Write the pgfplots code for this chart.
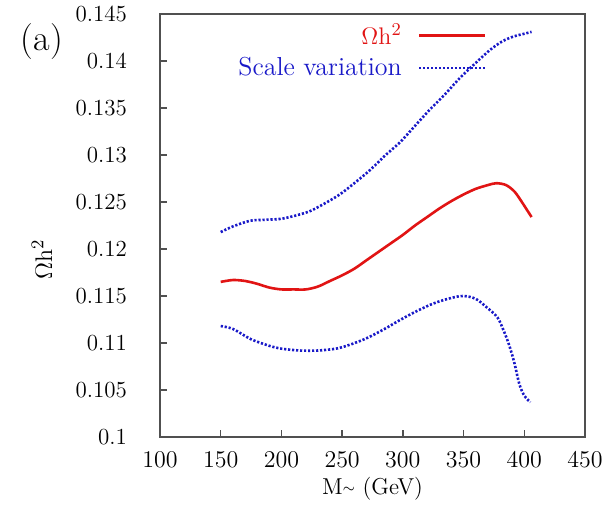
\documentclass[border=0pt]{standalone}
\usepackage{pgfplots}
\pgfplotsset{compat=1.18}
\definecolor{cred}{RGB}{225,20,20}
\definecolor{cblue}{RGB}{25,25,200}
\definecolor{axgray}{RGB}{80,80,80}
\begin{document}
\begin{tikzpicture}
\useasboundingbox (-80pt,-35.5pt) rectangle (226.5pt,218.5pt);
\begin{axis}[
  scale only axis,
  width=212.5pt, height=211.5pt,
  xmin=100, xmax=450, ymin=0.1, ymax=0.145,
  xtick={100,150,...,450},
  ytick={0.1,0.105,...,0.146},
  yticklabels={0.1,0.105,0.11,0.115,0.12,0.125,0.13,0.135,0.14,0.145},
  tick pos=left,
  tick align=inside,
  major tick length=3.5pt,
  axis line style={axgray, line width=0.9pt},
  tick style={axgray, line width=0.7pt},
  ticklabel style={font=\fontsize{11.5}{13}\selectfont},
  xticklabel style={yshift=-4pt},
  yticklabel style={xshift=-13pt},
  scaled y ticks=false,
  xlabel={M\raisebox{0.25ex}{\scriptsize$\sim$} (GeV)},
  xlabel style={font=\fontsize{11.5}{13}\selectfont, at={(axis description cs:0.5,0)}, anchor=center, yshift=-26pt},
  ylabel={$\Omega\mathrm{h}^2$},
  ylabel style={font=\fontsize{13}{15}\selectfont, at={(axis description cs:-0.278,0.42)}, anchor=center},
  legend style={at={(0.783,0.996)}, anchor=north east, draw=none, fill=none,
    font=\fontsize{13}{15}\selectfont, row sep=1pt, column sep=6pt},
  legend cell align=right,
  legend plot pos=right,
  legend image code/.code={\draw[#1] (0pt,0pt) -- (33pt,0pt);},
]
\addplot[cred, line width=1.3pt, smooth] coordinates {
(150,0.1165)(160,0.1167)(170,0.1166)(180,0.1163)(190,0.1159)(200,0.1157)
(210,0.1157)(220,0.1157)(230,0.1160)(240,0.1166)(250,0.1172)(260,0.1179)
(270,0.1188)(280,0.1197)(290,0.1206)(300,0.1215)(310,0.1225)(320,0.1234)
(330,0.1243)(340,0.1251)(350,0.1258)(360,0.1264)(370,0.1268)(377,0.1270)
(385,0.1268)(392,0.1261)(398,0.1250)(402,0.1242)(406,0.1234)};
\addlegendentry{\textcolor{cred}{$\Omega\mathrm{h}^2$}}
\addplot[cblue, line width=1.3pt, dash pattern=on 1.1pt off 0.9pt, smooth] coordinates {
(150,0.1218)(160,0.1224)(174,0.1230)(185,0.1231)(199,0.1232)(210,0.1235)
(223,0.1240)(235,0.1248)(248,0.1258)(260,0.1270)(273,0.1284)(285,0.1299)
(298,0.1314)(310,0.1331)(322,0.1348)(335,0.1365)(347,0.1382)(360,0.1398)
(372,0.1412)(382,0.1421)(391,0.1426)(400,0.1429)(406,0.1431)};
\addlegendentry{\textcolor{cblue}{Scale variation}}
\addplot[cblue, line width=1.3pt, dash pattern=on 1.1pt off 0.9pt, smooth, forget plot] coordinates {
(150,0.1118)(160,0.1115)(175,0.1104)(190,0.1097)(200,0.1094)(215,0.1092)
(230,0.1092)(245,0.1094)(256,0.1098)(270,0.1105)(285,0.1115)(297,0.1124)
(310,0.1133)(325,0.1142)(340,0.1148)(350,0.1150)(360,0.1147)(369,0.1138)
(378,0.1127)(384,0.1110)(388,0.1096)(392,0.1078)(396,0.1056)(400,0.1044)
(405,0.1037)};
\end{axis}
\node[font=\fontsize{18}{21}\selectfont] at (-59pt,197.5pt) {(a)};
\end{tikzpicture}
\end{document}
